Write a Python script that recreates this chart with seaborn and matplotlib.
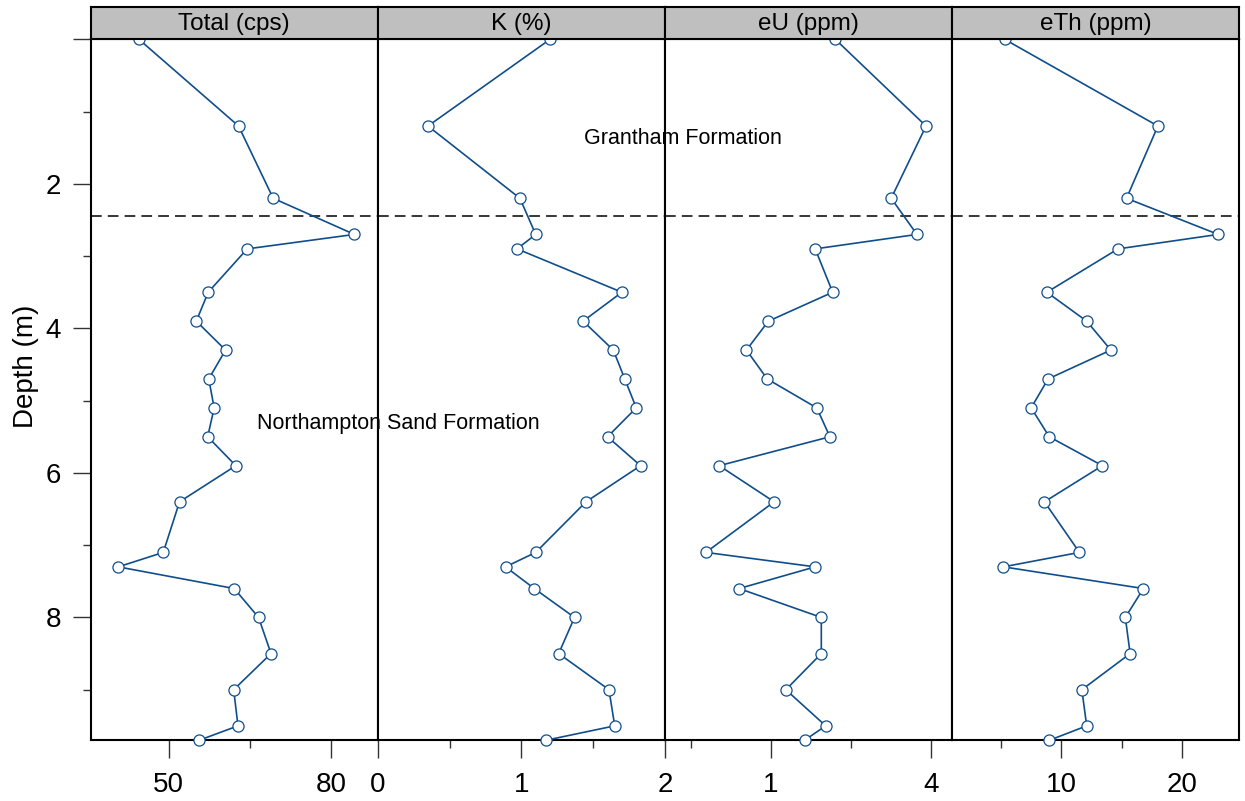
import matplotlib
matplotlib.use("Agg")
import matplotlib.pyplot as plt
import seaborn as sns
import pandas as pd
from matplotlib.ticker import FixedLocator, FixedFormatter, NullFormatter

# ---------------- data ----------------
depth = [0.0, 1.2, 2.2, 2.7, 2.9, 3.5, 3.9, 4.3, 4.7, 5.1, 5.5, 5.9, 6.4, 7.1, 7.3,
         7.6, 8.0, 8.5, 9.0, 9.5, 9.7]
total_cps = [44.5, 62.9, 69.3, 84.3, 64.5, 57.3, 55.1, 60.5, 57.4, 58.4, 57.2, 62.4,
             52.0, 49.0, 40.7, 62.1, 66.6, 68.9, 62.0, 62.8, 55.6]
k_pct = [1.20, 0.35, 0.99, 1.10, 0.97, 1.70, 1.43, 1.64, 1.72, 1.80, 1.60, 1.83,
         1.45, 1.10, 0.89, 1.09, 1.37, 1.26, 1.61, 1.65, 1.17]
eu_ppm = [1.75, 3.84, 2.84, 3.55, 1.47, 1.71, 0.98, 0.81, 0.97, 1.49, 1.67, 0.64,
          1.03, 0.57, 1.47, 0.76, 1.55, 1.55, 1.14, 1.61, 1.34]
eth_ppm = [5.3, 18.0, 15.4, 23.0, 14.7, 8.8, 12.1, 14.1, 8.9, 7.5, 9.0, 13.4,
           8.6, 11.5, 5.2, 16.8, 15.3, 15.7, 11.7, 12.1, 9.0]

panel_titles = ["Total (cps)", "K (%)", "eU (ppm)", "eTh (ppm)"]
contact_depth = 2.45
formation_labels = ["Grantham Formation", "Northampton Sand Formation"]

x_major = [[50, 80], [0, 1, 2], [1, 4], [10, 20]]
x_major_labels = [["50", "80"], ["0", "1", "2"], ["1", "4"], ["10", "20"]]
x_minor = [[65], [0.5, 1.5], [0.5, 2], [5, 15]]
y_major = [0, 2, 4, 6, 8]
y_major_labels = ["", "2", "4", "6", "8"]
y_minor = [1, 3, 5, 7, 9]

df = pd.DataFrame({
    "depth": depth * 4,
    "value": total_cps + k_pct + eu_ppm + eth_ppm,
    "panel": sum([[t] * len(depth) for t in panel_titles], []),
})

# ---------------- style ----------------
sns.set_style("white")
plt.rcParams["font.family"] = ["Liberation Sans", "DejaVu Sans"]
plt.rcParams["text.color"] = "black"
plt.rcParams["axes.labelcolor"] = "black"
plt.rcParams["xtick.labelcolor"] = "black"
plt.rcParams["ytick.labelcolor"] = "black"

W, H = 1245, 801
fig = plt.figure(figsize=(W / 100, H / 100), dpi=100)

edges = [90.7, 377.7, 665.0, 952.0, 1239.0]
top_px, bot_px, strip_top = 39.3, 740.3, 6.5
xlims = [(35.6, 88.6), (0.0, 2.0), (0.40, 4.81), (0.94, 24.72)]
xscales = ["linear", "linear", "log", "linear"]

line_col = "#104E8B"
tick_col = "#333333"

axes = []
for i, title in enumerate(panel_titles):
    l = edges[i] / W
    w = (edges[i + 1] - edges[i]) / W
    b = 1 - bot_px / H
    h = (bot_px - top_px) / H
    ax = fig.add_axes([l, b, w, h], zorder=1)
    axes.append(ax)
    sub = df[df["panel"] == title]
    sns.lineplot(data=sub, x="value", y="depth", orient="y", estimator=None,
                 ax=ax, color=line_col, lw=1.2, marker="o", markersize=8,
                 markerfacecolor="white", markeredgecolor=line_col,
                 markeredgewidth=0.9, clip_on=False, zorder=3)
    if xscales[i] == "log":
        ax.set_xscale("log", base=2)
    ax.set_xlim(*xlims[i])
    ax.set_ylim(9.7, 0)
    ax.axhline(contact_depth, color="black", lw=1.1, ls=(0, (7, 4)), zorder=2)
    ax.set_xlabel("")
    ax.set_ylabel("")
    ax.xaxis.set_major_locator(FixedLocator(x_major[i]))
    ax.xaxis.set_major_formatter(FixedFormatter(x_major_labels[i]))
    ax.xaxis.set_minor_locator(FixedLocator(x_minor[i]))
    ax.xaxis.set_minor_formatter(NullFormatter())
    ax.tick_params(axis="x", which="major", direction="out", length=13, width=1,
                   color=tick_col, labelcolor="black", labelsize=20, pad=10,
                   bottom=True, top=False)
    ax.tick_params(axis="x", which="minor", direction="out", length=6, width=1,
                   color=tick_col, bottom=True, top=False)
    if i == 0:
        ax.yaxis.set_major_locator(FixedLocator(y_major))
        ax.yaxis.set_major_formatter(FixedFormatter(y_major_labels))
        ax.yaxis.set_minor_locator(FixedLocator(y_minor))
        ax.yaxis.set_minor_formatter(NullFormatter())
        ax.tick_params(axis="y", which="major", direction="out", length=13, width=1,
                       color=tick_col, labelcolor="black", labelsize=20, pad=8.5,
                       left=True, right=False)
        ax.tick_params(axis="y", which="minor", direction="out", length=6, width=1,
                       color=tick_col, left=True, right=False)
    else:
        ax.set_yticks([])
        ax.yaxis.set_minor_locator(FixedLocator([]))
    for s in ax.spines.values():
        s.set_color("black")
        s.set_linewidth(1.5)
    ax.grid(False)
    ax.set_facecolor("white")
    if ax.get_legend() is not None:
        ax.get_legend().remove()

    # strip
    sax = fig.add_axes([l, 1 - top_px / H, w, (top_px - strip_top) / H], zorder=5)
    sax.set_facecolor("#BFBFBF")
    sax.set_xticks([])
    sax.set_yticks([])
    for s in sax.spines.values():
        s.set_color("black")
        s.set_linewidth(1.5)
    sax.text(0.5, 0.47, title, ha="center", va="center", fontsize=17.5,
             color="black", transform=sax.transAxes)

fig.text(683 / W, 1 - 138 / H, formation_labels[0], ha="center", va="center",
         fontsize=15.5, color="black", zorder=10)
fig.text(398 / W, 1 - 424 / H, formation_labels[1], ha="center", va="center",
         fontsize=15.5, color="black", zorder=10)
fig.text(26 / W, 1 - 366 / H, "Depth (m)", rotation=90, ha="center", va="center",
         fontsize=20, color="black")

fig.savefig("out.png", dpi=100, facecolor="white")
